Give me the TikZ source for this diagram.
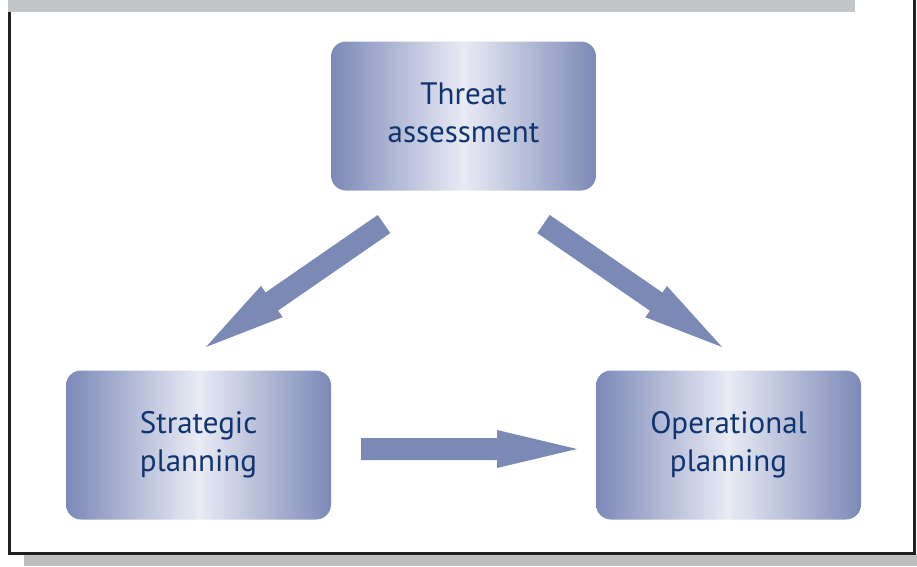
\documentclass[tikz,border=0pt]{standalone}
\usepackage{fontspec}
\setmainfont{PT Sans}
\usetikzlibrary{calc}
\definecolor{boxedge}{RGB}{124,137,183}
\definecolor{boxmid}{RGB}{233,235,245}
\definecolor{arrowblue}{RGB}{123,137,181}
\definecolor{textblue}{RGB}{16,52,110}
\definecolor{bargrey}{RGB}{195,198,201}
\definecolor{bargreyb}{RGB}{190,190,190}
\definecolor{framedark}{RGB}{35,31,32}
\newcommand{\fatarrow}[2]{%
  \coordinate (#1h) at ($(#2)!80pt!(#1)$);
  \fill[arrowblue] ($(#1)!11pt!90:(#2)$) -- ($(#1h)!11pt!-90:(#1)$) -- ($(#1h)!19pt!-90:(#1)$) -- (#2)
    -- ($(#1h)!19pt!90:(#1)$) -- ($(#1h)!11pt!90:(#1)$) -- ($(#1)!11pt!-90:(#2)$) -- cycle;}
\begin{document}
\begin{tikzpicture}[x=1pt,y=-1pt,
  box/.style={rounded corners=15pt, minimum width=265pt, minimum height=149pt, inner sep=0pt,
    left color=boxedge, right color=boxedge, middle color=boxmid,
    text=textblue, font=\fontsize{31}{38}\selectfont, align=center}]
\useasboundingbox (0,0) rectangle (917,566);
\fill[bargrey] (8,0) rectangle (855,12);
\fill[bargreyb] (24,555) rectangle (917,566);
\draw[framedark, line width=3pt, line join=miter] (9.5,12) -- (9.5,553) -- (914.5,553) -- (914.5,0);
\node[box] (threat) at (463.5,116) {\strut Threat\\\strut assessment};
\node[box] (strat) at (198.5,445) {\strut Strategic\\\strut planning};
\node[box] (oper) at (728.5,445) {\strut Operational\\\strut planning};
\coordinate (aone) at (384,224); \coordinate (aonep) at (206,347);
\coordinate (atwo) at (543.5,224); \coordinate (atwop) at (722,347);
\coordinate (athree) at (361,449); \coordinate (athreep) at (577,449);
\fatarrow{aone}{aonep}
\fatarrow{atwo}{atwop}
\fatarrow{athree}{athreep}
\end{tikzpicture}
\end{document}
